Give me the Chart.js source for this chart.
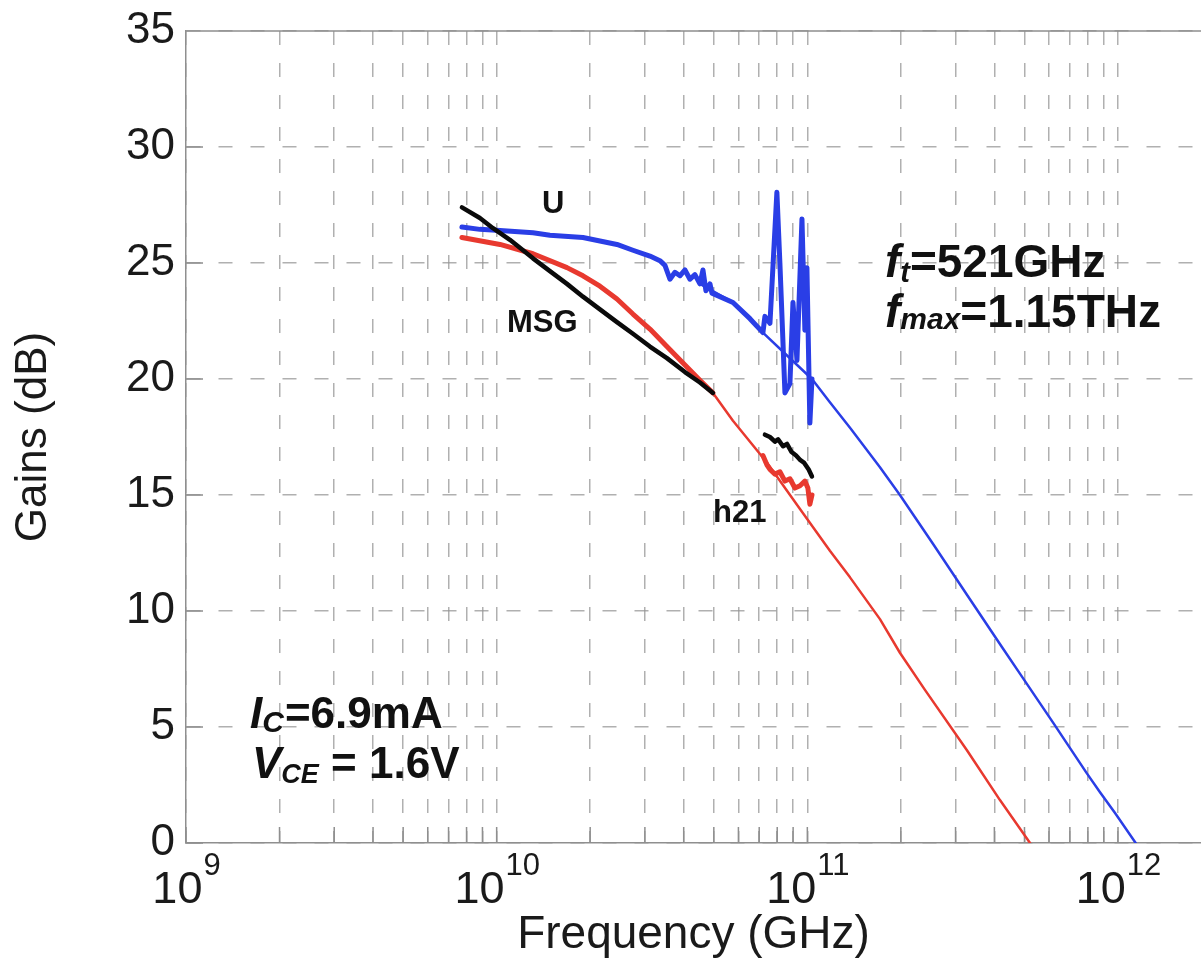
<!DOCTYPE html>
<html>
<head>
<meta charset="utf-8">
<script src="https://cdn.jsdelivr.net/npm/chart.js@4.4.0/dist/chart.umd.min.js"></script>
<style>
  html, body { margin: 0; padding: 0; background: #fff; }
  #wrap { width: 1201px; height: 963px; }
</style>
</head>
<body>
<div id="wrap"><canvas id="chart_gains" width="1201" height="963"></canvas></div>
<script>
const FONT = '"Liberation Sans", Arial, Helvetica, sans-serif';

// axis ticks
const decadeExps = [9, 10, 11, 12];
const mantissas = [1, 2, 3, 4, 5, 6, 7, 8, 9];
const xMin = 1e9;
const xMax = 1.85e12;
const yTicks = [0, 5, 10, 15, 20, 25, 30, 35];

// MSG, measured (black) - null splits the two pieces
const msgFreq = [7.73e9, 8.83e9, 9.73e9, 1.103e10, 1.309e10, 1.484e10, 1.684e10, 1.896e10, 2.15e10,
  2.439e10, 2.746e10, 3.114e10, 3.532e10, 4.037e10, 4.511e10, 4.969e10, 6.0e10,
  7.303e10, 7.58e10, 7.865e10, 8.05e10, 8.35e10, 8.6e10, 8.9e10, 9.2e10, 9.5e10, 9.75e10, 1.01e11, 1.035e11];
const msgGain = [27.4, 26.94, 26.5, 26.0, 25.2, 24.65, 24.1, 23.55, 23.0,
  22.45, 21.95, 21.4, 20.9, 20.3, 19.85, 19.4, null,
  17.6, 17.5, 17.3, 17.4, 17.1, 17.2, 16.85, 16.7, 16.5, 16.4, 16.1, 15.8];

// U, measured (blue)
const uMeasFreq = [7.73e9, 8.83e9, 1.025e10, 1.309e10, 1.484e10, 1.896e10, 2.15e10, 2.439e10, 2.746e10,
  3.114e10, 3.354e10, 3.481e10, 3.612e10, 3.749e10, 3.89e10, 4.037e10, 4.19e10, 4.347e10, 4.511e10,
  4.613e10, 4.717e10, 4.859e10, 4.932e10, 5.762e10, 6.536e10, 7.195e10, 7.303e10, 7.58e10, 7.98e10,
  8.16e10, 8.47e10, 8.79e10, 8.99e10, 9.26e10, 9.61e10, 9.82e10, 9.97e10, 1.019e11, 1.035e11];
const uMeasGain = [26.55, 26.45, 26.4, 26.3, 26.2, 26.1, 25.95, 25.8, 25.55,
  25.3, 25.1, 24.9, 24.3, 24.6, 24.45, 24.7, 24.3, 24.5, 24.1,
  24.7, 23.8, 24.1, 23.7, 23.3, 22.6, 22.0, 22.7, 22.4, 28.05,
  25.0, 19.4, 19.8, 23.3, 20.8, 26.9, 22.1, 24.8, 18.1, 20.0];

// U, extrapolated (thin blue)
const uFitFreq = [4.511e10, 5.762e10, 6.536e10, 7.195e10, 8.47e10, 1.035e11, 1.182e11, 1.372e11, 1.713e11,
  1.986e11, 2.537e11, 3.264e11, 4.23e11, 4.834e11, 6.173e11, 7.94e11, 8.74e11, 9.77e11, 1.14e12];
const uFitGain = [24.1, 23.3, 22.6, 22.0, 21.1, 20.0, 19.0, 17.9, 16.2,
  15.0, 12.9, 10.7, 8.45, 7.3, 5.2, 3.0, 2.2, 1.3, 0];

// h21, measured (red)
const h21MeasFreq = [7.73e9, 1.025e10, 1.309e10, 1.684e10, 1.896e10, 2.15e10, 2.439e10, 2.746e10, 3.114e10,
  3.532e10, 4.037e10, 4.511e10, 4.969e10, 6.0e10,
  7.195e10, 7.41e10, 7.58e10, 7.865e10, 8.16e10, 8.47e10, 8.79e10, 9.12e10, 9.47e10, 9.82e10, 1.004e11, 1.019e11, 1.035e11];
const h21MeasGain = [26.1, 25.8, 25.4, 24.8, 24.45, 24.0, 23.45, 22.8, 22.15,
  21.4, 20.6, 19.95, 19.4, null,
  16.7, 16.3, 16.1, 15.9, 16.0, 15.6, 15.7, 15.3, 15.4, 15.6, 15.3, 14.6, 15.0];

// h21, extrapolated (thin red)
const h21FitFreq = [7.73e9, 1.025e10, 1.309e10, 1.684e10, 1.896e10, 2.15e10, 2.439e10, 2.746e10, 3.114e10,
  3.532e10, 4.037e10, 4.511e10, 4.969e10, 5.762e10, 7.41e10, 9.47e10, 1.182e11, 1.372e11, 1.713e11,
  1.986e11, 2.391e11, 3.264e11, 4.169e11, 5.21e11];
const h21FitGain = [26.1, 25.8, 25.4, 24.8, 24.45, 24.0, 23.45, 22.8, 22.15,
  21.4, 20.6, 19.95, 19.4, 18.2, 16.4, 14.4, 12.6, 11.45, 9.65,
  8.2, 6.6, 4.0, 1.85, 0];

const BLUE = "#2a3ee6";
const RED = "#e8392f";
const BLACK = "#0a0a0a";

function pairUp(fs, gs) {
  return fs.map((f, i) => ({ x: f, y: gs[i] }));
}

let xTickValues = [];
decadeExps.forEach((e) => {
  mantissas.forEach((m) => {
    const v = m * Math.pow(10, e);
    if (v <= xMax) xTickValues.push(v);
  });
});

// text drawn in data coordinates (left, baseline)
const notes = [
  { f: 1.40e10, g: 27.16, parts: [{ text: "U", font: "bold 31px" }] },
  { f: 1.08e10, g: 22.03, parts: [{ text: "MSG", font: "bold 31px" }] },
  { f: 4.97e10, g: 13.84, parts: [{ text: "h21", font: "bold 31px" }] },
  { f: 1.777e11, g: 24.4, parts: [
    { text: "f", font: "italic bold 46px" },
    { text: "t", font: "italic bold 29px", dy: 5 },
    { text: "=521GHz", font: "bold 46px" }] },
  { f: 1.777e11, g: 22.24, parts: [
    { text: "f", font: "italic bold 46px" },
    { text: "max", font: "italic bold 30px", dy: 2 },
    { text: "=1.15THz", font: "bold 46px" }] },
  { f: 1.607e9, g: 4.96, parts: [
    { text: "I", font: "italic bold 44px" },
    { text: "C", font: "italic bold 30px", dy: 4, gap: 1 },
    { text: "=6.9mA", font: "bold 44px" }] },
  { f: 1.631e9, g: 2.8, parts: [
    { text: "V", font: "italic bold 44px" },
    { text: "CE", font: "italic bold 27px", dy: 5 },
    { text: " = 1.6V", font: "bold 44px" }] },
];

function drawRich(ctx, x, y, parts) {
  let cx = x;
  parts.forEach((p) => {
    ctx.font = p.font + " " + FONT;
    ctx.fillText(p.text, cx, y + (p.dy || 0));
    cx += ctx.measureText(p.text).width + (p.gap || 0);
  });
}

const axisDecor = {
  id: "axisDecor",
  beforeDatasetsDraw(chart) {
    const { ctx, chartArea } = chart;
    const xs = chart.scales.x;
    const ys = chart.scales.y;
    ctx.save();
    ctx.strokeStyle = "#8f8f8f";
    ctx.lineWidth = 1.5;
    ctx.setLineDash([]);
    ctx.beginPath();
    // top frame line
    ctx.moveTo(chartArea.left, chartArea.top);
    ctx.lineTo(chartArea.right, chartArea.top);
    // inward ticks
    xTickValues.forEach((v) => {
      const px = xs.getPixelForValue(v);
      ctx.moveTo(px, chartArea.bottom);
      ctx.lineTo(px, chartArea.bottom - 16);
    });
    yTicks.forEach((v) => {
      const py = ys.getPixelForValue(v);
      ctx.moveTo(chartArea.left, py);
      ctx.lineTo(chartArea.left + 17, py);
    });
    ctx.stroke();
    ctx.restore();
  },
  afterDraw(chart) {
    const { ctx, chartArea } = chart;
    const xs = chart.scales.x;
    const ys = chart.scales.y;
    ctx.save();
    ctx.fillStyle = "#1a1a1a";
    ctx.textAlign = "left";
    ctx.textBaseline = "alphabetic";
    // 10^n labels
    decadeExps.forEach((e) => {
      const px = xs.getPixelForValue(Math.pow(10, e));
      ctx.font = "45px " + FONT;
      const w1 = ctx.measureText("10").width;
      ctx.font = "31px " + FONT;
      const w2 = ctx.measureText(String(e)).width;
      const x0 = px - (w1 + w2) / 2;
      const base = chartArea.bottom + 60;
      ctx.font = "45px " + FONT;
      ctx.fillText("10", x0, base);
      ctx.font = "31px " + FONT;
      ctx.fillText(String(e), x0 + w1 + 1, base - 28);
    });
    ctx.fillStyle = "#111";
    notes.forEach((n) => {
      drawRich(ctx, xs.getPixelForValue(n.f), ys.getPixelForValue(n.g), n.parts);
    });
    ctx.restore();
  },
};

var ctxG = document.getElementById("chart_gains").getContext("2d");

var gainsChart = new Chart(ctxG, {
  type: "line",
  data: {
    datasets: [
      { label: "MSG", data: pairUp(msgFreq, msgGain), borderColor: BLACK, borderWidth: 4.5 },
      { label: "U", data: pairUp(uMeasFreq, uMeasGain), borderColor: BLUE, borderWidth: 5 },
      { label: "h21", data: pairUp(h21MeasFreq, h21MeasGain), borderColor: RED, borderWidth: 5 },
      { label: "U fit", data: pairUp(uFitFreq, uFitGain), borderColor: BLUE, borderWidth: 2.5 },
      { label: "h21 fit", data: pairUp(h21FitFreq, h21FitGain), borderColor: RED, borderWidth: 2.5 },
    ],
  },
  options: {
    responsive: false,
    animation: false,
    spanGaps: false,
    elements: {
      point: { radius: 0 },
      line: { tension: 0, fill: false, borderJoinStyle: "round", borderCapStyle: "round" },
    },
    layout: {
      padding: { top: 31, right: 0, left: 0, bottom: 0 },
    },
    plugins: {
      legend: { display: false },
      tooltip: { enabled: false },
    },
    scales: {
      x: {
        type: "logarithmic",
        position: "bottom",
        min: xMin,
        max: xMax,
        afterBuildTicks: (scale) => {
          scale.ticks = xTickValues.map((v) => ({ value: v }));
        },
        afterFit: (scale) => {
          scale.height = 120;
          scale.paddingLeft = 0;
          scale.paddingRight = 0;
        },
        ticks: { display: false },
        grid: {
          color: "rgba(150,150,150,0.75)",
          lineWidth: 1.5,
          drawTicks: false,
        },
        border: { display: true, color: "#8f8f8f", width: 1.5, dash: [14, 18] },
        title: {
          display: true,
          text: "Frequency (GHz)",
          color: "#1a1a1a",
          font: { family: FONT, size: 46 },
          padding: { top: 0, bottom: 0 },
        },
      },
      y: {
        type: "linear",
        min: 0,
        max: 35,
        afterFit: (scale) => {
          scale.width = 186;
          scale.paddingTop = 0;
          scale.paddingBottom = 0;
        },
        ticks: {
          stepSize: 5,
          padding: 11,
          color: "#1a1a1a",
          font: { family: FONT, size: 44 },
        },
        grid: {
          color: "rgba(150,150,150,0.75)",
          lineWidth: 1.5,
          drawTicks: false,
        },
        border: { display: true, color: "#8f8f8f", width: 1.5, dash: [14, 18] },
        title: {
          display: true,
          text: "Gains (dB)",
          color: "#1a1a1a",
          font: { family: FONT, size: 44 },
          padding: { top: 7, bottom: 0 },
        },
      },
    },
  },
  plugins: [axisDecor],
});
</script>
</body>
</html>
